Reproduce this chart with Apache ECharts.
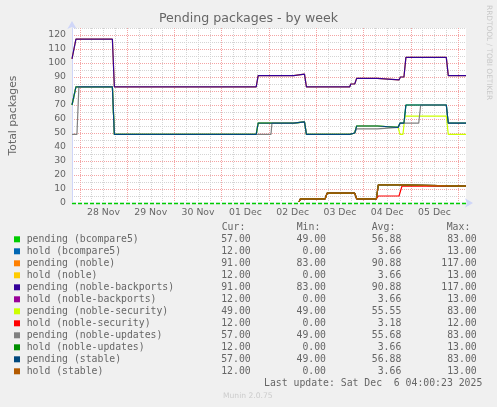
<!DOCTYPE html>
<html><head><meta charset="utf-8">
<script src="https://cdn.jsdelivr.net/npm/echarts@6/dist/echarts.min.js"></script>
<style>html,body{margin:0;padding:0;background:#f0f0f0;}#c{width:497px;height:407px;}</style>
</head><body><div id="c"></div>
<script>
// ---- data ----
const seriesNames = ['pending (bcompare5)','hold (bcompare5)','pending (noble)','hold (noble)',
  'pending (noble-backports)','hold (noble-backports)','pending (noble-security)','hold (noble-security)',
  'pending (noble-updates)','hold (noble-updates)','pending (stable)','hold (stable)'];
const legendCur = ['57.00','12.00','91.00','12.00','91.00','12.00','49.00','12.00','57.00','12.00','57.00','12.00'];
const legendMin = ['49.00','0.00','83.00','0.00','83.00','0.00','49.00','0.00','49.00','0.00','49.00','0.00'];
const legendAvg = ['56.88','3.66','90.88','3.66','90.88','3.66','55.55','3.18','55.68','3.66','56.88','3.66'];
const legendMax = ['83.00','13.00','117.00','13.00','117.00','13.00','83.00','12.00','83.00','13.00','83.00','13.00'];
const monthNames = ['Jan','Feb','Mar','Apr','May','Jun','Jul','Aug','Sep','Oct','Nov','Dec'];
const rangeStart = '11-27 20:00';
const rangeEnd = '12-06 04:00';

const topTimes = ['11-27 20:00','11-27 21:00','11-27 22:00','11-28 16:30','11-28 17:30','12-01 17:30','12-01 18:30',
  '12-02 12:30','12-02 13:00','12-02 18:00','12-02 19:00','12-03 17:00','12-03 17:30','12-03 19:30','12-03 20:30',
  '12-04 07:00','12-04 07:30','12-04 18:00','12-04 18:45','12-04 20:30','12-04 21:30','12-05 18:00','12-05 19:00','12-06 04:00'];
const topValues = [103,103,117,117,83,83,91,91,92,92,83,83,85,85,89,89,88,88,90,90,104,104,91,91];

const stableTimes = ['11-27 20:00','11-27 21:00','11-27 22:00','11-28 16:30','11-28 17:30','12-01 17:30','12-01 18:30',
  '12-02 12:30','12-02 13:00','12-02 18:00','12-02 19:00','12-03 17:00','12-03 17:30','12-03 19:30','12-03 20:30',
  '12-04 07:00','12-04 07:30','12-04 17:30','12-04 18:30','12-04 20:30','12-04 21:30','12-05 18:00','12-05 19:00','12-06 04:00'];
const stableValues = [70,70,83,83,49,49,57,57,58,58,49,49,50,50,55,55,54,54,57,57,70,70,57,57];

const updatesTimes = ['11-27 20:00','11-27 22:30','11-27 23:30','11-28 16:30','11-28 17:30','12-02 01:00','12-02 01:30',
  '12-02 12:30','12-02 13:00','12-02 18:00','12-02 19:00','12-03 17:00','12-03 17:30','12-03 19:30','12-03 20:30',
  '12-04 07:00','12-04 07:30','12-04 17:30','12-04 18:30','12-05 04:00','12-05 05:00','12-05 18:00','12-05 19:00','12-06 04:00'];
const updatesValues = [49,49,83,83,49,49,57,57,58,58,49,49,50,50,53,53,54,54,57,57,70,70,57,57];

const securityTimes = ['11-27 20:00','11-27 21:00','11-27 22:00','11-28 16:30','11-28 17:30','12-01 17:30','12-01 18:30',
  '12-02 12:30','12-02 13:00','12-02 18:00','12-02 19:00','12-03 17:00','12-03 17:30','12-03 19:30','12-03 20:30',
  '12-04 07:00','12-04 07:30','12-04 17:30','12-04 18:30','12-04 20:00','12-04 21:00','12-05 18:00','12-05 19:00','12-06 04:00'];
const securityValues = [70,70,83,83,49,49,57,57,58,58,49,49,50,50,55,55,54,54,49,49,62,62,49,49];

const holdTimes = ['11-27 20:00','12-02 15:00','12-02 16:00','12-03 04:30','12-03 05:30','12-03 19:30','12-03 20:30',
  '12-04 06:30','12-04 07:30','12-04 17:30','12-04 18:00','12-06 04:00'];
const holdValues = [0,0,3,3,7,7,3,3,13,13,12,12];

const holdSecTimes = ['11-27 20:00','12-02 15:00','12-02 16:00','12-03 04:30','12-03 05:30','12-03 19:30','12-03 20:30',
  '12-04 06:30','12-04 07:30','12-04 18:00','12-04 19:30','12-06 04:00'];
const holdSecValues = [0,0,3,3,7,7,3,3,5,5,12,12];

// ---- styles ----
const colors = ['#00cc00','#0066b3','#ff8000','#ffcc00','#330099','#990099','#ccff00','#ff0000','#808080','#008f00','#00487d','#b35a00'];
const FONT = '#666666';

function ts(s){
  const [md, hm] = s.split(' ');
  const [mo, d] = md.split('-').map(Number);
  const [h, mi] = hm.split(':').map(Number);
  return new Date(2025, mo-1, d, h, mi).getTime();
}
function pairs(times, vals){ return times.map((t,i)=>[ts(t), vals[i]]); }

const profiles = [
  pairs(stableTimes, stableValues), pairs(holdTimes, holdValues),
  pairs(topTimes, topValues), pairs(holdTimes, holdValues),
  pairs(topTimes, topValues), pairs(holdTimes, holdValues),
  pairs(securityTimes, securityValues), pairs(holdSecTimes, holdSecValues),
  pairs(updatesTimes, updatesValues), pairs(holdTimes, holdValues),
  pairs(stableTimes, stableValues), pairs(holdTimes, holdValues)
];

const xMin = ts(rangeStart), xMax = ts(rangeEnd);
const HOUR = 3600*1000;

// vertical grid (every 6h, red at midnight)
const vgrid = [];
for (let t = ts('11-28 00:00'); t <= xMax; t += 6*HOUR) {
  const major = new Date(t).getHours() === 0;
  vgrid.push({xAxis: t, lineStyle: {color: major ? '#f4a4a4' : '#d4d4d4', type: [1,1], width: 1}});
}

const series = [{
  type: 'line', name: '_grid', data: [], z: 1, silent: true,
  markLine: {silent: true, z: 1, symbol: 'none', animation: false, label: {show: false}, data: vgrid}
}];
profiles.forEach((d, i) => {
  series.push({
    type: 'line', name: seriesNames[i], data: d, showSymbol: false, symbol: 'none',
    lineStyle: {color: colors[i], width: 1.2}, itemStyle: {color: colors[i]},
    z: 3, animation: false, clip: true
  });
});
series.push({
  type: 'line', name: '_zerobg', data: [], z: 9, silent: true,
  markLine: {silent: true, z: 9, symbol: 'none', animation: false, label: {show: false},
    data: [{yAxis: 0, lineStyle: {color: '#f4f6fc', type: 'solid', width: 2.2}}]}
});
series.push({
  type: 'line', name: '_zero', data: [], z: 10, silent: true,
  markLine: {silent: true, z: 10, symbol: 'none', animation: false, label: {show: false},
    data: [{yAxis: 0, lineStyle: {color: '#00cc00', type: [4,2], width: 1.3}}]}
});

// legend graphic
const graphic = [];
const L0 = 239.3, LS = 12;
const mono = '"DejaVu Sans Mono", monospace';
const fs = 9.8;
[['Cur:',221.7],['Min:',296.7],['Avg:',371.7],['Max:',446.7]].forEach(h => {
  graphic.push({type:'text', x:h[1], y:227.3, style:{text:h[0], fill:FONT, fontFamily:mono, fontSize:fs, textAlign:'left', textVerticalAlign:'middle'}});
});
seriesNames.forEach((n, i) => {
  const y = L0 + LS*i;
  graphic.push({type:'rect', shape:{x:14, y:y-3, width:6, height:6}, style:{fill:colors[i]}});
  graphic.push({type:'text', x:26.7, y:y, style:{text:n, fill:FONT, fontFamily:mono, fontSize:fs, textAlign:'left', textVerticalAlign:'middle'}});
  [[legendCur,250.7],[legendMin,326],[legendAvg,401.3],[legendMax,476.7]].forEach(c => {
    graphic.push({type:'text', x:c[1], y:y, style:{text:c[0][i], fill:FONT, fontFamily:mono, fontSize:fs, textAlign:'right', textVerticalAlign:'middle'}});
  });
});
graphic.push({type:'text', x:482.3, y:383.3, style:{text:'Last update: Sat Dec  6 04:00:23 2025', fill:FONT, fontFamily:mono, fontSize:fs, textAlign:'right', textVerticalAlign:'middle'}});
graphic.push({type:'text', x:223, y:395.7, style:{text:'Munin 2.0.75', fill:'#cccccc', fontFamily:'"DejaVu Sans"', fontSize:7.6, textAlign:'left', textVerticalAlign:'middle'}});
graphic.push({type:'text', x:489, y:5, rotation:-Math.PI/2, style:{text:'RRDTOOL / TOBI OETIKER', fill:'#c8c8c8', fontFamily:'"DejaVu Sans"', fontSize:7.4, textAlign:'left', textVerticalAlign:'middle'}});

const chart = echarts.init(document.getElementById('c'));
chart.setOption({
  backgroundColor: '#f0f0f0',
  animation: false,
  textStyle: {fontFamily: '"DejaVu Sans"'},
  title: {text: 'Pending packages - by week', left: 'center', top: 12, padding: 0,
    textStyle: {fontSize: 12.6, fontWeight: 'normal', color: FONT, fontFamily: '"DejaVu Sans"'}},
  grid: {left: 66, top: 28, width: 400, height: 175, show: true, backgroundColor: '#ffffff', borderWidth: 0},
  xAxis: {
    type: 'time', min: xMin, max: xMax, minInterval: 6*HOUR, maxInterval: 6*HOUR,
    splitLine: {show: false}, axisTick: {show: false},
    axisLine: {show: true, lineStyle: {color: '#cfd6f8', width: 1}, symbol: ['none','arrow'], symbolSize: [7,8], symbolOffset: [0,7]},
    axisLabel: {show: true, interval: 0, hideOverlap: false, color: FONT, fontSize: 9.3, margin: 5, fontFamily: '"DejaVu Sans"',
      formatter: function(v){
        const d = new Date(v);
        if (d.getHours() === 12 && d.getMinutes() === 0) {
          const dd = d.getDate();
          return (dd < 10 ? '0' + dd : '' + dd) + ' ' + monthNames[d.getMonth()];
        }
        return '';
      }}
  },
  yAxis: {
    type: 'value', min: 0, max: 125, interval: 5,
    name: 'Total packages', nameLocation: 'middle', nameGap: 53, nameRotate: 90,
    nameTextStyle: {color: FONT, fontSize: 10.8, fontFamily: '"DejaVu Sans"'},
    axisLine: {show: true, lineStyle: {color: '#cfd6f8', width: 1}, symbol: ['none','arrow'], symbolSize: [7,8], symbolOffset: [0,7]},
    axisTick: {show: false},
    axisLabel: {color: FONT, fontSize: 9.3, margin: 6, fontFamily: '"DejaVu Sans"',
      formatter: v => (v % 10 === 0 ? String(v) : '')},
    splitLine: {show: true, lineStyle: {color: ['#f4a4a4','#d4d4d4'], type: [1,1], width: 1}}
  },
  tooltip: {show: false},
  graphic: graphic,
  series: series
});
</script></body></html>
